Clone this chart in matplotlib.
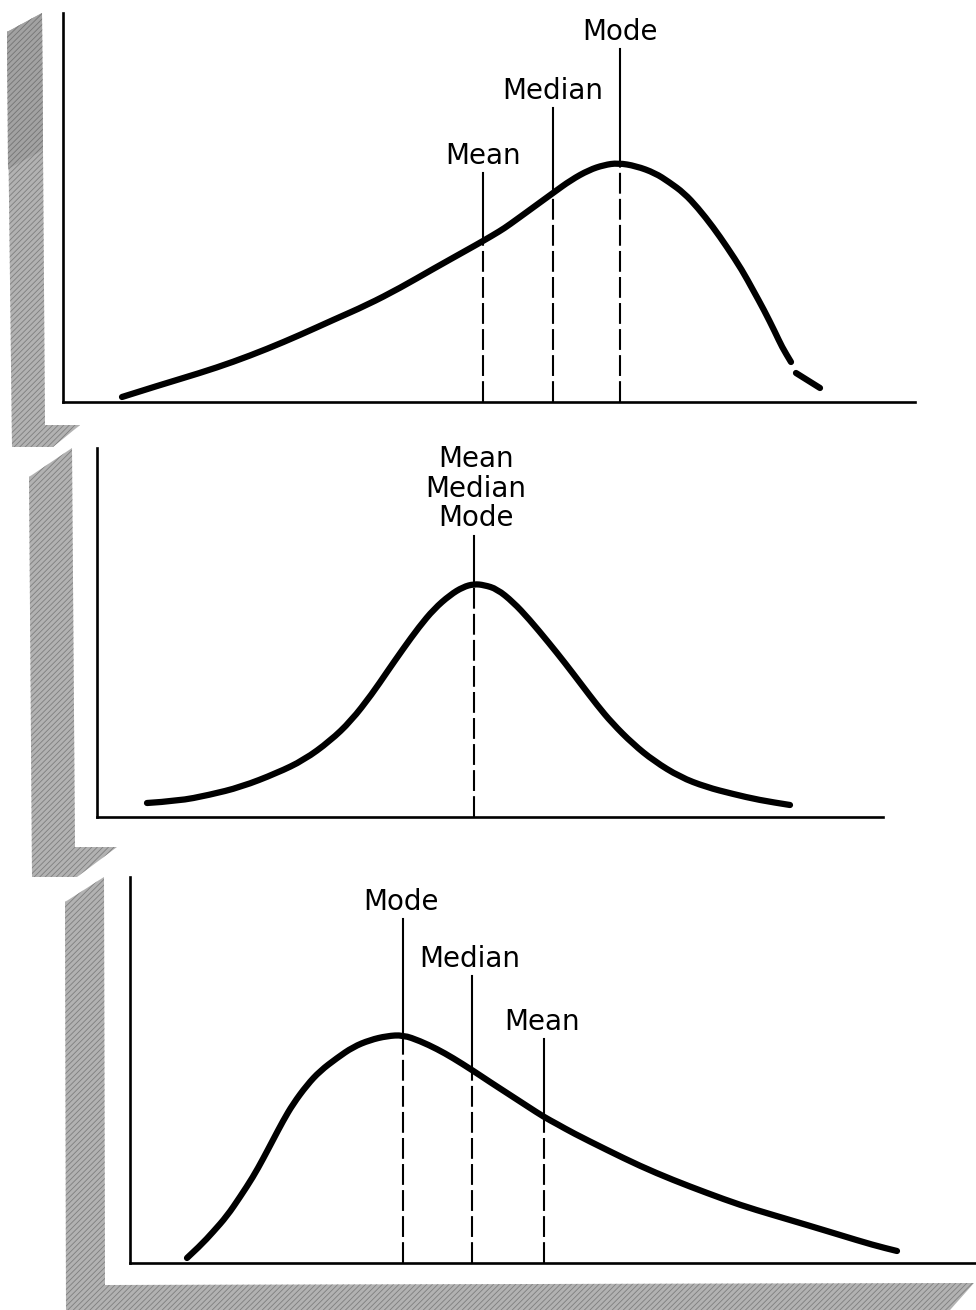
import numpy as np
import matplotlib
matplotlib.use("Agg")
import matplotlib.pyplot as plt
from matplotlib.patches import Polygon, PathPatch
from matplotlib.path import Path

plt.rcParams['font.family'] = ['DejaVu Sans']
plt.rcParams['hatch.linewidth'] = 0.6

# --- data (x = distance along the axis, y = height above it) ---
# top panel: negatively skewed (the scan has a small break near the right tail)
neg_x = [59, 97, 137, 170, 204, 237, 270, 304, 337, 370, 404, 420, 437, 446, 468, 490, 508,
         526, 541, 555, 573, 592, 606, 621, 635, 650, 664, 679, 690, 701, 712, 719, 728,
         731, 733, 757]
neg_y = [5, 17, 29, 40, 53, 67, 82, 97, 114, 133, 152, 161, 171, 177, 193, 209, 222,
         232, 237, 239, 236, 229, 220, 209, 194, 175, 155, 132, 112, 92, 70, 55, 40,
         np.nan, 29, 14]
neg_names = ["Mean", "Median", "Mode"]
neg_pos = [420, 490, 557]
neg_top = [229, 294, 353]

# middle panel: symmetric
sym_x = [50, 81, 112, 144, 180, 207, 233, 254, 275, 290, 306, 322, 337, 353, 366, 377,
         387, 400, 416, 432, 452, 468, 484, 500, 515, 536, 557, 583, 609, 636, 662, 693]
sym_y = [14, 16, 22, 30, 44, 57, 76, 96, 123, 145, 168, 190, 208, 222, 230, 233,
         232, 228, 215, 198, 174, 154, 133, 112, 94, 73, 56, 40, 30, 23, 17, 12]
sym_names = ["Mean", "Median", "Mode"]
sym_pos = 377
sym_top = 281

# bottom panel: positively skewed
pos_x = [57, 70, 83, 97, 110, 123, 133, 143, 153, 163, 177, 190, 207, 223, 240, 257, 273,
         290, 307, 323, 342, 360, 377, 397, 414, 427, 443, 477, 510, 543, 577, 610, 643,
         677, 710, 743, 767]
pos_y = [5, 17, 31, 47, 66, 86, 104, 123, 142, 159, 178, 192, 205, 216, 223, 227, 228,
         222, 214, 205, 193, 181, 170, 157, 146, 139, 130, 113, 97, 83, 70, 58, 48,
         38, 28, 18, 12]
pos_names = ["Mode", "Median", "Mean"]
pos_pos = [273, 342, 414]
pos_top = [344, 287, 224]

W, H = 976, 1310
fig = plt.figure(figsize=(W / 100, H / 100), dpi=100)

# grey offset "shadows" behind each frame (pixel coordinates)
bg = fig.add_axes([0, 0, 1, 1])
bg.set_xlim(0, W)
bg.set_ylim(H, 0)
bg.axis("off")
shadows = [
    [(7, 32), (42, 13), (45, 425), (80, 425), (53, 447), (12, 447)],
    [(29, 477), (72, 448), (75, 847), (117, 847), (77, 877), (32, 877)],
    [(65, 902), (104, 877), (105, 1285), (974, 1283), (950, 1310), (66, 1310)],
]
for pts in shadows:
    bg.add_patch(Polygon(pts, closed=True, facecolor="#b2b2b2", edgecolor="#7e7e7e",
                         hatch="//////", linewidth=0))
# the top of the first strip is printed a little darker
bg.add_patch(Polygon([(7, 32), (42, 13), (43, 150), (8, 169)], closed=True,
                     facecolor="#a2a2a2", edgecolor="#747474", hatch="//////", linewidth=0))


def smooth(ax, cx, cy):
    # quadratic Bezier through midpoints; read points act as control points
    pts = np.column_stack([cx, cy]).astype(float)
    verts = [pts[0]]
    codes = [Path.MOVETO]
    for i in range(1, len(pts) - 1):
        verts += [pts[i], (pts[i] + pts[i + 1]) / 2]
        codes += [Path.CURVE3, Path.CURVE3]
    verts.append(pts[-1])
    codes.append(Path.LINETO)
    ax.add_patch(PathPatch(Path(verts, codes), fill=False, lw=4.5, edgecolor="black",
                           capstyle="round", joinstyle="round", clip_on=False, zorder=3))


def curve(ax, cx, cy):
    cy = np.array(cy, dtype=float)
    cx = np.array(cx, dtype=float)
    breaks = np.where(np.isnan(cy))[0]
    start = 0
    for b in list(breaks) + [len(cy)]:
        if b - start >= 2:
            smooth(ax, cx[start:b], cy[start:b])
        start = b + 1


def panel(x0, y0, ytop, xr):
    ax = fig.add_axes([x0 / W, 1 - y0 / H, (xr - x0) / W, (y0 - ytop) / H])
    ax.set_xlim(0, xr - x0)
    ax.set_ylim(0, y0 - ytop)
    ax.patch.set_alpha(0)
    for s in ["top", "right"]:
        ax.spines[s].set_visible(False)
    for s in ["left", "bottom"]:
        ax.spines[s].set_linewidth(1.9)
    ax.set_xticks([])
    ax.set_yticks([])
    return ax


def marker(ax, x, top, cx, cy):
    cy = np.array(cy, dtype=float)
    ok = ~np.isnan(cy)
    cross = np.interp(x, np.array(cx)[ok], cy[ok])
    ax.plot([x, x], [cross, top], color="black", lw=1.5, clip_on=False)
    ax.plot([x, x], [0, cross], color="black", lw=1.5, ls=(0, (10, 2.5)), clip_on=False)


txt = dict(fontsize=20, ha="center", va="baseline", color="black")

ax1 = panel(63, 402, 13, 915)
curve(ax1, neg_x, neg_y)
for name, x, top in zip(neg_names, neg_pos, neg_top):
    marker(ax1, x, top, neg_x, neg_y)
    ax1.text(x, top + 9, name, **txt)

ax2 = panel(97, 817, 448, 883)
curve(ax2, sym_x, sym_y)
marker(ax2, sym_pos, sym_top, sym_x, sym_y)
for i, name in enumerate(reversed(sym_names)):
    ax2.text(sym_pos + 2, sym_top + 10 + i * 29.5, name, **txt)

ax3 = panel(130, 1263, 877, 976)
curve(ax3, pos_x, pos_y)
for name, x, top in zip(pos_names, pos_pos, pos_top):
    marker(ax3, x, top, pos_x, pos_y)
    ax3.text(x - 2, top + 9, name, **txt)

fig.savefig("out.png", dpi=100, facecolor="white")
